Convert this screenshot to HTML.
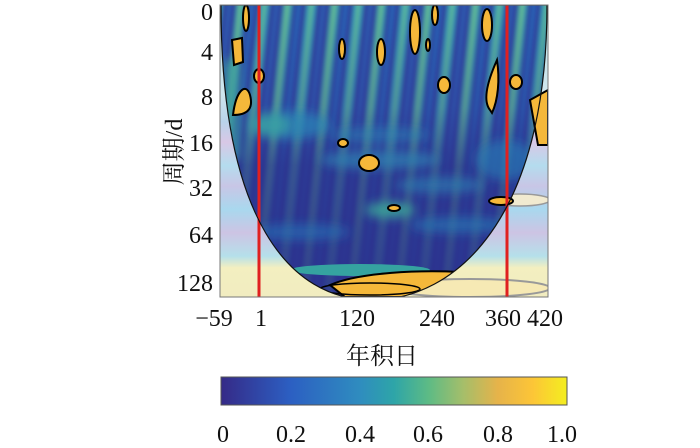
<!DOCTYPE html>
<html><head><meta charset="utf-8"><style>
body{margin:0;background:#fff;width:700px;height:448px;overflow:hidden;font-family:"Liberation Serif","Noto Serif CJK SC",serif;}
</style></head><body>
<svg width="700" height="448" xmlns="http://www.w3.org/2000/svg" style="position:absolute;left:0;top:0">
<defs>
<clipPath id="pc"><rect x="220" y="5" width="328" height="292"/></clipPath>
<clipPath id="cone"><path id="cp" d="M221,5 C221,220 290,300 372,300 C455,300 547,220 547,5 Z"/></clipPath>
<filter id="bl"><feGaussianBlur stdDeviation="2.5"/></filter>
<filter id="bl2"><feGaussianBlur stdDeviation="5"/></filter>
<linearGradient id="bg" x1="0" y1="0" x2="0" y2="1">
<stop offset="0" stop-color="#bfe3e8"/><stop offset="0.3" stop-color="#cfe6ee"/>
<stop offset="0.4" stop-color="#b9d3ea"/><stop offset="0.47" stop-color="#d8c8e6"/>
<stop offset="0.55" stop-color="#b4dcee"/><stop offset="0.62" stop-color="#c8c6e6"/>
<stop offset="0.7" stop-color="#a9d8ee"/><stop offset="0.78" stop-color="#cdc4e4"/>
<stop offset="0.86" stop-color="#b5e0ea"/><stop offset="0.9" stop-color="#f3efc0"/>
<stop offset="1" stop-color="#f1ecc0"/></linearGradient>
<pattern id="stripes" width="47" height="300" patternUnits="userSpaceOnUse" patternTransform="skewX(-6)">
<rect width="47" height="300" fill="#33389a"/>
<rect x="2" width="9" height="300" fill="#2c94b5"/>
<rect x="4" width="4" height="300" fill="#6cc48a"/>
<rect x="15" width="5" height="300" fill="#2566b8"/>
<rect x="25" width="10" height="300" fill="#2a95bd"/>
<rect x="28" width="4" height="300" fill="#62be92"/>
<rect x="40" width="4" height="300" fill="#2b64b6"/>
</pattern>
<linearGradient id="fade" x1="0" y1="0" x2="0" y2="1">
<stop offset="0" stop-color="#2e2f8e" stop-opacity="0"/>
<stop offset="0.35" stop-color="#2e2f8e" stop-opacity="0.25"/>
<stop offset="0.55" stop-color="#2b2d8a" stop-opacity="0.7"/>
<stop offset="1" stop-color="#2b2d8a" stop-opacity="0.85"/></linearGradient>
<linearGradient id="cb" x1="0" y1="0" x2="1" y2="0">
<stop offset="0" stop-color="#352a87"/><stop offset="0.2" stop-color="#2c5fc2"/>
<stop offset="0.4" stop-color="#2f8cbf"/><stop offset="0.5" stop-color="#2ea5a8"/>
<stop offset="0.6" stop-color="#5dbb85"/><stop offset="0.7" stop-color="#a5be6a"/>
<stop offset="0.8" stop-color="#e6b34a"/><stop offset="0.9" stop-color="#fcc537"/>
<stop offset="1" stop-color="#f4ee1f"/></linearGradient>
</defs>
<g clip-path="url(#pc)">
<rect x="220" y="5" width="328" height="292" fill="url(#bg)"/>
<ellipse cx="470" cy="288" rx="80" ry="9" fill="#f6e9b4" stroke="#999" stroke-width="2"/>
<ellipse cx="520" cy="200" rx="30" ry="6" fill="#f1ead0" stroke="#999" stroke-width="1.5"/>
<g clip-path="url(#cone)">
<rect x="210" y="0" width="350" height="300" fill="url(#stripes)" filter="url(#bl)"/>
<rect x="220" y="5" width="328" height="292" fill="url(#fade)"/>
<g filter="url(#bl2)">
<rect x="222" y="60" width="18" height="100" fill="#3aa3a0" opacity="0.7"/>
<ellipse cx="290" cy="125" rx="40" ry="14" fill="#2b88b8" opacity="0.7"/>
<ellipse cx="380" cy="160" rx="60" ry="9" fill="#2c85b4" opacity="0.7"/>
<ellipse cx="440" cy="185" rx="45" ry="8" fill="#2c85b4" opacity="0.6"/>
<ellipse cx="390" cy="210" rx="25" ry="8" fill="#3cae98" opacity="0.8"/>
<ellipse cx="300" cy="232" rx="50" ry="8" fill="#2a74b8" opacity="0.6"/>
<ellipse cx="460" cy="225" rx="50" ry="8" fill="#2a7fb8" opacity="0.6"/>
<ellipse cx="505" cy="160" rx="30" ry="20" fill="#2a80b8" opacity="0.6"/>
<ellipse cx="270" cy="125" rx="20" ry="12" fill="#3aa6a0" opacity="0.7"/>
<ellipse cx="380" cy="135" rx="50" ry="8" fill="#2b8ab8" opacity="0.5"/>
</g>
<ellipse cx="360" cy="270" rx="70" ry="6" fill="#35a3a0"/>
<path d="M330,285 C360,272 420,270 460,272 L450,297 L345,297 Z" fill="#f5b83a" stroke="#000" stroke-width="2"/>
<ellipse cx="370" cy="289" rx="50" ry="6" fill="none" stroke="#000" stroke-width="1.5"/>
</g>
<g fill="#f5b83a" stroke="#000" stroke-width="2">
<path d="M232,40 L242,38 L243,62 L234,65 Z"/>
<path d="M233,115 C236,90 246,82 250,95 C254,110 246,115 233,115 Z"/>
<ellipse cx="259" cy="76" rx="5" ry="7"/>
<ellipse cx="246" cy="18" rx="3" ry="13"/>
<ellipse cx="342" cy="49" rx="3" ry="10"/>
<ellipse cx="381" cy="52" rx="4" ry="13"/>
<ellipse cx="415" cy="32" rx="5" ry="22"/>
<ellipse cx="428" cy="45" rx="2" ry="6"/>
<ellipse cx="444" cy="85" rx="6" ry="8"/>
<ellipse cx="435" cy="15" rx="3" ry="10"/>
<ellipse cx="487" cy="25" rx="5" ry="16"/>
<path d="M490,110 C482,100 488,80 497,60 C500,80 498,100 492,113 Z"/>
<ellipse cx="516" cy="82" rx="6" ry="7"/>
<path d="M530,100 L548,90 L548,145 L538,145 Z"/>
<ellipse cx="343" cy="143" rx="5" ry="4"/>
<ellipse cx="369" cy="163" rx="10" ry="8"/>
<ellipse cx="394" cy="208" rx="6" ry="3"/>
<ellipse cx="501" cy="201" rx="12" ry="4"/>
</g>
<line x1="259" y1="5" x2="259" y2="297" stroke="#e02020" stroke-width="3"/>
<line x1="507" y1="5" x2="507" y2="297" stroke="#e02020" stroke-width="3"/>
<use href="#cp" fill="none" stroke="#111" stroke-width="1.2"/>
</g>
<rect x="220" y="5" width="328" height="292" fill="none" stroke="#777" stroke-width="1"/>
<g font-size="24" fill="#111" text-anchor="end">
<text x="213" y="20">0</text><text x="213" y="60">4</text><text x="213" y="105">8</text>
<text x="213" y="151">16</text><text x="213" y="196">32</text><text x="213" y="243">64</text>
<text x="213" y="291">128</text></g>
<g font-size="24" fill="#111" text-anchor="middle">
<text x="214" y="326">−59</text><text x="261" y="326">1</text><text x="357" y="326">120</text>
<text x="437" y="326">240</text><text x="524" y="326">360 420</text>
<text x="382" y="364" font-family="Noto Serif CJK SC, serif">年积日</text>
<text x="223" y="442">0</text><text x="291" y="442">0.2</text><text x="360" y="442">0.4</text>
<text x="428" y="442">0.6</text><text x="498" y="442">0.8</text><text x="562" y="442">1.0</text>
</g>
<text transform="translate(182,152) rotate(-90)" font-size="24" text-anchor="middle" font-family="Liberation Serif, Noto Serif CJK SC, serif" fill="#111">周期/d</text>
<rect x="221" y="377" width="346" height="28" fill="url(#cb)" stroke="#555" stroke-width="1"/>
</svg>
</body></html>
